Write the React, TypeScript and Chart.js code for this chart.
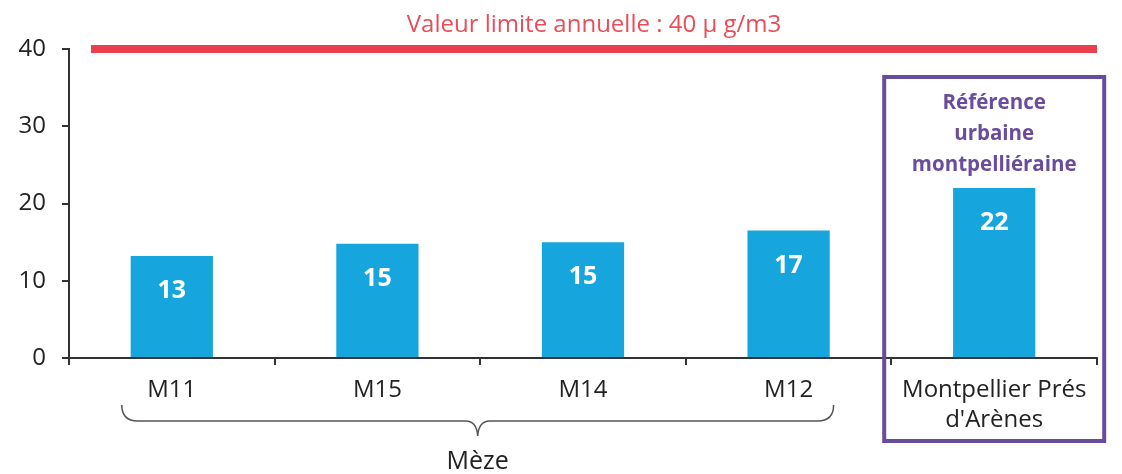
import React, { useEffect, useRef } from "react";
import { Chart, registerables } from "chart.js";
Chart.register(...registerables);

const categories: (string | string[])[] = ["M11", "M15", "M14", "M12", ["Montpellier Prés", "d'Arènes"]];
const values = [13.2, 14.8, 15.0, 16.5, 22.0];
const valueLabels = ["13", "15", "15", "17", "22"];
const yTicks = [0, 10, 20, 30, 40];
const limitValue = 40;
const limitLabel = "Valeur limite annuelle : 40 µ g/m3";
const refLines = ["Référence", "urbaine", "montpelliéraine"];
const groupLabel = "Mèze";

const FONT = "'Open Sans', Lato, sans-serif";

const overlay = {
  id: "overlay",
  afterDatasetsDraw(chart: any) {
    const ctx = chart.ctx;
    const x = chart.scales.x;
    const y = chart.scales.y;
    ctx.save();
    // value labels
    const meta = chart.getDatasetMeta(0);
    ctx.fillStyle = "#ffffff";
    ctx.font = `bold 25px ${FONT}`;
    ctx.textAlign = "center";
    ctx.textBaseline = "middle";
    meta.data.forEach((bar: any, i: number) => {
      ctx.fillText(valueLabels[i], bar.x, bar.y + 35);
    });
    // limit line
    const ly = y.getPixelForValue(limitValue);
    ctx.strokeStyle = "#e8404f";
    ctx.lineWidth = 8;
    ctx.beginPath();
    ctx.moveTo(x.left + 22, ly);
    ctx.lineTo(x.right, ly);
    ctx.stroke();
    ctx.fillStyle = "#e94d5a";
    ctx.font = `24px ${FONT}`;
    ctx.fillText(limitLabel, (x.left + 22 + x.right) / 2, ly - 24);
    // reference box
    const cx = x.getPixelForValue(4);
    ctx.strokeStyle = "#6a4c9c";
    ctx.lineWidth = 4;
    ctx.strokeRect(cx - 110, ly + 28, 220, 364);
    ctx.fillStyle = "#6a4c9c";
    ctx.font = `bold 20.5px ${FONT}`;
    refLines.forEach((t, i) => ctx.fillText(t, cx, ly + 54 + i * 31));
    // brace
    const x0 = x.getPixelForValue(0) - 50;
    const x1 = x.getPixelForValue(3) + 45;
    const mid = (x0 + x1) / 2;
    const by = y.bottom + 63;
    ctx.strokeStyle = "#555";
    ctx.lineWidth = 1.5;
    ctx.beginPath();
    ctx.moveTo(x0, by - 16);
    ctx.quadraticCurveTo(x0, by, x0 + 16, by);
    ctx.lineTo(mid - 12, by);
    ctx.quadraticCurveTo(mid - 1, by, mid, by + 15);
    ctx.quadraticCurveTo(mid + 1, by, mid + 12, by);
    ctx.lineTo(x1 - 16, by);
    ctx.quadraticCurveTo(x1, by, x1, by - 16);
    ctx.stroke();
    ctx.fillStyle = "#222";
    ctx.font = `25px ${FONT}`;
    ctx.fillText(groupLabel, mid, by + 41);
    ctx.restore();
  },
};

export default function App() {
  const ref = useRef<HTMLCanvasElement>(null);
  useEffect(() => {
    document.body.style.margin = "0";
    const chart = new Chart(ref.current!, {
      type: "bar",
      data: {
        labels: categories as any,
        datasets: [{ data: values, backgroundColor: "#17a5de", barPercentage: 0.4, categoryPercentage: 1 }],
      },
      options: {
        animation: false,
        responsive: false,
        layout: { padding: { left: 0, right: 25, top: 49, bottom: 0 } },
        plugins: { legend: { display: false }, tooltip: { enabled: false } },
        scales: {
          x: {
            offset: true,
            grid: { display: true, drawOnChartArea: false, drawTicks: true, tickLength: 7, color: "#333", lineWidth: 2 },
            border: { color: "#333", width: 2 },
            ticks: { color: "#222", font: { family: FONT, size: 24, lineHeight: 1.25 }, padding: 10, maxRotation: 0, autoSkip: false },
            afterFit: (s: any) => { s.height = 116; },
          } as any,
          y: {
            min: 0,
            max: 40,
            afterBuildTicks: (s: any) => { s.ticks = yTicks.map((v) => ({ value: v })); },
            grid: { display: true, drawOnChartArea: false, drawTicks: true, tickLength: 7, color: "#333", lineWidth: 2 },
            border: { color: "#333", width: 2 },
            ticks: { color: "#222", font: { family: FONT, size: 24 }, padding: 16 },
            afterFit: (s: any) => { s.width = 69; },
          } as any,
        },
      },
      plugins: [overlay],
    });
    return () => chart.destroy();
  }, []);
  return (
    <div style={{ width: 1122, height: 474 }}>
      <canvas ref={ref} width={1122} height={474} style={{ display: "block" }} />
    </div>
  );
}
